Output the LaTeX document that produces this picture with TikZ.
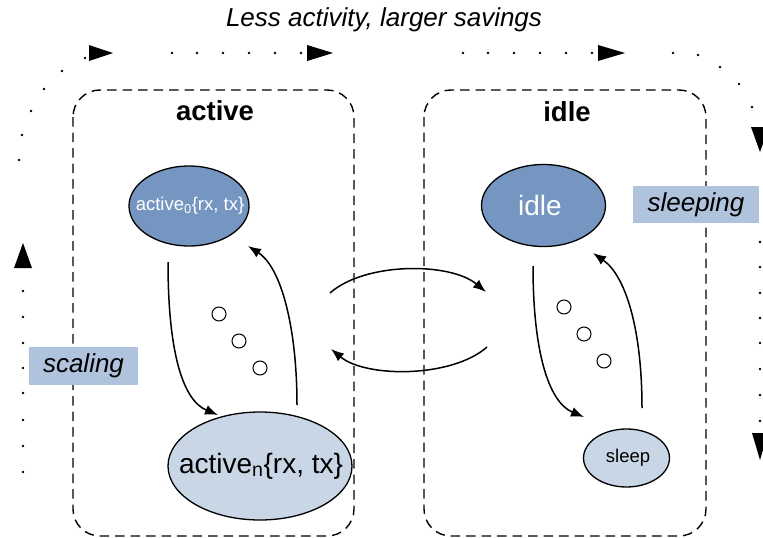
\documentclass[tikz,border=0pt]{standalone}
\usepackage{fontspec}
\setmainfont{Liberation Sans}
\usetikzlibrary{arrows.meta,shapes.geometric}
\definecolor{stateDark}{RGB}{117,150,192}
\definecolor{stateLight}{RGB}{201,214,230}
\definecolor{tagFill}{RGB}{176,195,220}
\newcommand{\fsz}[1]{\fontsize{#1}{#1}\selectfont}

\begin{document}
\begin{tikzpicture}[x=1pt,y=-1pt,
  group/.style={draw, dash pattern=on 9.5pt off 6pt, line width=1.4pt, rounded corners=27pt},
  grouptitle/.style={anchor=base, font=\bfseries\fsz{27.5}},
  statering/.style={draw, line width=1.3pt},
  darkstate/.style={text=white, inner sep=0pt},
  lightstate/.style={text=black, inner sep=0pt},
  tag/.style={fill=tagFill, inner sep=0pt, font=\itshape\fsz{26}},
  flow/.style={-{Latex[length=13pt,width=10pt]}, line width=1.5pt},
  hop/.style={circle, draw, line width=1pt, minimum size=14pt, inner sep=0pt},
  dot/.style={circle, fill=black, minimum size=2.8pt, inner sep=0pt},
]
\useasboundingbox (0,0) rectangle (763,538);

% heading
\node[anchor=base, font=\itshape\fsz{26}] (heading) at (384,27) {Less activity, larger savings};

% the two groups of states
\draw[group] (73,90) rectangle (354,536);
\draw[group] (424,90) rectangle (706,536);
\node[grouptitle] (activeTitle) at (215,120) {active};
\node[grouptitle] (idleTitle) at (567,121) {idle};

% state outlines
\draw[statering, fill=stateDark]  (189,206)   ellipse [x radius=60, y radius=40];
\draw[statering, fill=stateLight] (260,466)   ellipse [x radius=92, y radius=54];
\draw[statering, fill=stateDark]  (543.5,205.5) ellipse [x radius=62, y radius=41];
\draw[statering, fill=stateLight] (626.5,458) ellipse [x radius=43, y radius=29];

% state names
\node[darkstate, font=\fsz{18.5}] (a0) at (190,206) {active\textsubscript{0}\{rx, tx\}};
\node[lightstate, font=\fsz{28}] (an) at (261,466) {active\textsubscript{n}\{rx, tx\}};
\node[darkstate, font=\fsz{28}] (idle) at (540,205.5) {idle};
\node[lightstate, font=\fsz{18.5}] (sleep) at (628,458) {sleep};

% side tags
\node[tag, minimum width=126pt, minimum height=37pt] (sleeping) at (696,204.5) {sleeping};
\node[tag, minimum width=109pt, minimum height=38pt] (scaling) at (83.5,366) {scaling};

% intermediate steps
\node[hop] (h1) at (219,314) {};
\node[hop] (h2) at (239,341) {};
\node[hop] (h3) at (260,368) {};
\node[hop] (k1) at (564,307) {};
\node[hop] (k2) at (584,334) {};
\node[hop] (k3) at (604,361) {};

% end points of the transitions
\coordinate (a0out) at (168,262);
\coordinate (anin)  at (218,415);
\coordinate (anout) at (297,405);
\coordinate (a0in)  at (248,246);
\coordinate (idout) at (533,266);
\coordinate (slin)  at (584,417);
\coordinate (slout) at (642,408);
\coordinate (idin)  at (593,253);
\coordinate (goIdleA) at (330,293);
\coordinate (goIdleB) at (486,292);
\coordinate (wakeA) at (487,347);
\coordinate (wakeB) at (331,349);

% transitions inside the active group
\draw[flow] (a0out) .. controls (168,350) and (182,400) .. (anin);
\draw[flow] (anout) .. controls (297,330) and (282,268) .. (a0in);
% transitions inside the idle group
\draw[flow] (idout) .. controls (533,350) and (548,402) .. (slin);
\draw[flow] (slout) .. controls (642,330) and (626,276) .. (idin);
% transitions between the groups
\draw[flow] (goIdleA) .. controls (365,262) and (450,262) .. (goIdleB);
\draw[flow] (wakeA) .. controls (452,378) and (366,378) .. (wakeB);

% dotted cycle around both groups
\foreach \p in {(19,160),(22,135),(31,111),(44,89),(62,71),(85,58),
  (172,53),(197,53),(223,53),(249,53),(275,53),(301,53),
  (463,53),(488,53),(514,53),(540,53),(566,53),(592,53),
  (673,53),(698,55),(720,67),(739,84),(752,107),
  (760,242),(760,267),(760,293),(760,318),(760,343),(760,369),(760,395),(760,421),
  (23,291),(23,317),(23,343),(23,368),(23,393),(23,420),(23,446),(23,472)}
  \node[dot] at \p {};
\fill (89,45) -- (113,53) -- (89,61) -- cycle;
\fill (307,45) -- (333,53) -- (307,61) -- cycle;
\fill (598,45) -- (625,53) -- (598,61) -- cycle;
\fill (751,127) -- (769,127) -- (760,152) -- cycle;
\fill (752,433) -- (768,433) -- (760,460) -- cycle;
\fill (14,268) -- (32,268) -- (23,243) -- cycle;
\end{tikzpicture}
\end{document}
